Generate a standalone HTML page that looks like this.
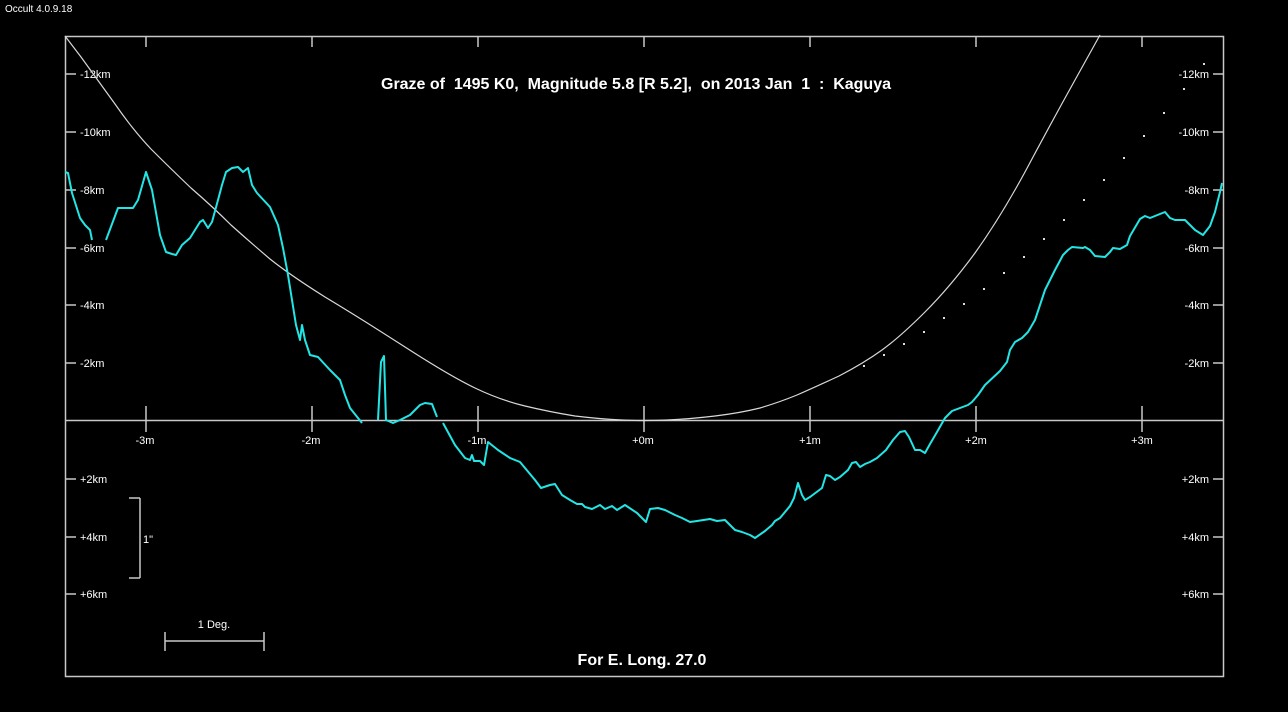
<!DOCTYPE html><html><head><style>body{margin:0;background:#000}svg{display:block}text{font-family:"Liberation Sans",sans-serif;fill:#fff}</style></head><body>
<svg width="1288" height="712" viewBox="0 0 1288 712">
<rect width="1288" height="712" fill="#000"/>
<text x="5" y="12" font-size="10">Occult 4.0.9.18</text>
<rect x="65.5" y="36.5" width="1158" height="640" fill="none" stroke="#c8c8c8" stroke-width="1.5"/>
<line x1="65" y1="420.5" x2="1224" y2="420.5" stroke="#c8c8c8" stroke-width="1.5"/>
<g stroke="#c8c8c8" stroke-width="1.5">
<line x1="146" y1="36" x2="146" y2="47"/><line x1="312" y1="36" x2="312" y2="47"/><line x1="478" y1="36" x2="478" y2="47"/><line x1="644" y1="36" x2="644" y2="47"/><line x1="810" y1="36" x2="810" y2="47"/><line x1="976" y1="36" x2="976" y2="47"/><line x1="1142" y1="36" x2="1142" y2="47"/>
<line x1="146" y1="406" x2="146" y2="432"/><line x1="312" y1="406" x2="312" y2="432"/><line x1="478" y1="406" x2="478" y2="432"/><line x1="644" y1="406" x2="644" y2="432"/><line x1="810" y1="406" x2="810" y2="432"/><line x1="976" y1="406" x2="976" y2="432"/><line x1="1142" y1="406" x2="1142" y2="432"/>
<line x1="65" y1="74" x2="76" y2="74"/><line x1="65" y1="132" x2="76" y2="132"/><line x1="65" y1="190" x2="76" y2="190"/><line x1="65" y1="248" x2="76" y2="248"/><line x1="65" y1="305" x2="76" y2="305"/><line x1="65" y1="363" x2="76" y2="363"/><line x1="65" y1="479" x2="76" y2="479"/><line x1="65" y1="537" x2="76" y2="537"/><line x1="65" y1="594" x2="76" y2="594"/>
<line x1="1213" y1="74" x2="1224" y2="74"/><line x1="1213" y1="132" x2="1224" y2="132"/><line x1="1213" y1="190" x2="1224" y2="190"/><line x1="1213" y1="248" x2="1224" y2="248"/><line x1="1213" y1="305" x2="1224" y2="305"/><line x1="1213" y1="363" x2="1224" y2="363"/><line x1="1213" y1="479" x2="1224" y2="479"/><line x1="1213" y1="537" x2="1224" y2="537"/><line x1="1213" y1="594" x2="1224" y2="594"/>
<line x1="140" y1="498" x2="140" y2="578"/><line x1="129" y1="498" x2="140" y2="498"/><line x1="129" y1="578" x2="140" y2="578"/>
<line x1="165" y1="641" x2="264" y2="641"/><line x1="165" y1="632" x2="165" y2="651"/><line x1="264" y1="632" x2="264" y2="651"/>
</g>
<g font-size="11">
<text x="80" y="78">-12km</text><text x="80" y="136">-10km</text><text x="80" y="194">-8km</text><text x="80" y="252">-6km</text><text x="80" y="309">-4km</text><text x="80" y="367">-2km</text><text x="80" y="483">+2km</text><text x="80" y="541">+4km</text><text x="80" y="598">+6km</text>
<g text-anchor="end"><text x="1209" y="78">-12km</text><text x="1209" y="136">-10km</text><text x="1209" y="194">-8km</text><text x="1209" y="252">-6km</text><text x="1209" y="309">-4km</text><text x="1209" y="367">-2km</text><text x="1209" y="483">+2km</text><text x="1209" y="541">+4km</text><text x="1209" y="598">+6km</text></g>
<g text-anchor="middle"><text x="145" y="444">-3m</text><text x="311" y="444">-2m</text><text x="477" y="444">-1m</text><text x="643" y="444">+0m</text><text x="810" y="444">+1m</text><text x="976" y="444">+2m</text><text x="1142" y="444">+3m</text><text x="214" y="628">1 Deg.</text></g>
<text x="143" y="543">1"</text>
</g>
<text x="636" y="89" font-size="16" font-weight="bold" text-anchor="middle" textLength="510" xml:space="preserve">Graze of  1495 K0,  Magnitude 5.8 [R 5.2],  on 2013 Jan  1  :  Kaguya</text>
<text x="642" y="665" font-size="16" font-weight="bold" text-anchor="middle">For E. Long. 27.0</text>
<path d="M65,36 L81,57 Q97,79 115,104 Q133,130 151,149 Q170,168 191,188 Q213,207 231,225 Q250,242 270,259 Q290,275 325,297 Q360,318 405,347 Q450,376 475,388 Q500,400 525,406 Q550,412 575,416 Q600,419 622,420 Q644,421 667,420 Q690,419 715,416 Q740,413 760,408 Q780,402 797,395 Q813,388 839,376 Q864,363 882,350 Q900,337 925,312 Q950,287 975,253 Q1000,218 1025,172 Q1050,125 1075,80 L1100,35" fill="none" stroke="#d8d8d8" stroke-width="1.2"/>
<g fill="#ddd">
<rect x="863" y="365" width="2" height="2"/><rect x="883" y="354" width="2" height="2"/><rect x="903" y="343" width="2" height="2"/><rect x="923" y="331" width="2" height="2"/><rect x="943" y="317" width="2" height="2"/><rect x="963" y="303" width="2" height="2"/><rect x="983" y="288" width="2" height="2"/><rect x="1003" y="272" width="2" height="2"/><rect x="1023" y="256" width="2" height="2"/><rect x="1043" y="238" width="2" height="2"/><rect x="1063" y="219" width="2" height="2"/><rect x="1083" y="199" width="2" height="2"/><rect x="1103" y="179" width="2" height="2"/><rect x="1123" y="157" width="2" height="2"/><rect x="1143" y="135" width="2" height="2"/><rect x="1163" y="112" width="2" height="2"/><rect x="1183" y="88" width="2" height="2"/><rect x="1203" y="63" width="2" height="2"/>
</g>
<g fill="none" stroke="#22e6e6" stroke-width="2" stroke-linejoin="round">
<path d="M65,172 L68,173 L70,183 L72,193 L80,218 L85,225 L90,230 L92,240"/>
<path d="M106,240 L118,208 L133,208 L138,200 L146,172 L152,190 L160,235 L166,252 L172,254 L176,255 L182,245 L190,238 L200,222 L203,220 L208,228 L212,222 L218,200 L222,185 L226,172 L232,168 L238,167 L243,172 L248,168 L252,185 L257,193 L270,207 L278,225 L283,248 L288,275 L292,300 L296,325 L300,340 L302,325 L305,340 L310,355 L318,357 L330,370 L340,380 L345,395 L350,408 L358,418 L362,423"/>
<path d="M378,420 L381,362 L384,356 L386,420 L393,423 L400,420 L410,415 L420,405 L425,403 L432,404 L437,417"/>
<path d="M443,423 L455,445 L465,458 L470,460 L472,455 L474,461 L480,461 L484,465 L488,442 L498,450 L510,458 L520,462 L535,480 L541,488 L550,485 L555,484 L562,495 L570,500 L577,504 L582,504 L585,507 L592,509 L600,505 L605,509 L612,506 L617,510 L625,505 L637,513 L646,522 L650,509 L658,508 L665,510 L675,515 L682,518 L690,522 L697,521 L710,519 L717,521 L725,520 L730,525 L735,530 L742,532 L750,535 L755,538 L765,531 L772,525 L775,521 L780,518 L785,512 L790,506 L794,498 L798,483 L802,495 L805,500 L810,497 L822,488 L826,475 L830,476 L835,480 L840,477 L848,470 L852,463 L856,462 L860,467 L865,464 L870,462 L877,458 L886,450 L893,440 L900,432 L905,431 L909,437 L915,450 L920,450 L925,453 L930,444 L937,432 L945,418 L952,411 L960,408 L968,405 L972,402 L978,395 L985,385 L1000,371 L1007,362 L1010,350 L1015,342 L1022,338 L1028,332 L1035,320 L1045,290 L1055,270 L1063,255 L1068,250 L1072,247 L1083,248 L1085,247 L1090,250 L1095,256 L1105,257 L1110,252 L1113,248 L1120,249 L1127,245 L1130,236 L1140,219 L1145,216 L1150,218 L1160,214 L1165,212 L1170,218 L1175,220 L1185,220 L1195,230 L1203,235 L1210,226 L1215,212 L1220,192 L1222,183"/>
</g>
</svg>
</body></html>
